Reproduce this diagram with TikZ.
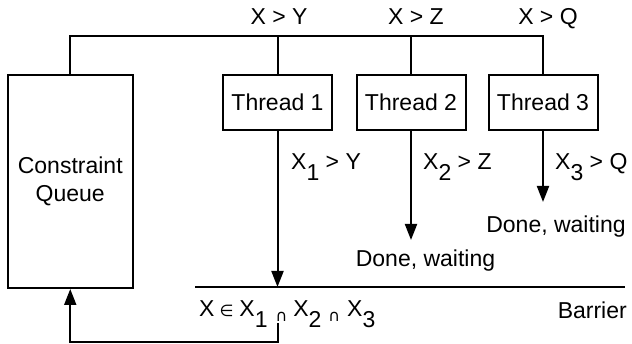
\documentclass[tikz,border=0pt]{standalone}
\usepackage{fontspec}
\setmainfont{Liberation Sans}
\newfontfamily\symf{DejaVu Sans}
\usetikzlibrary{arrows.meta}
\newcommand{\sbx}[1]{\raisebox{-11pt}{#1}}
\newcommand{\smsym}[1]{{\symf\fontsize{16}{16}\selectfont #1}}
\begin{document}
\begin{tikzpicture}[x=1pt,y=-1pt,
  every node/.style={font=\fontsize{23}{28}\selectfont, inner sep=0pt},
  box/.style={draw, line width=2pt, minimum width=109pt, minimum height=55pt},
  qbox/.style={draw, line width=2pt, minimum width=125.5pt, minimum height=213pt, align=center},
  wire/.style={line width=2pt},
  arr/.style={line width=2pt, -{Triangle[length=16pt,width=12pt]}},
  lbl/.style={anchor=base},
  lblw/.style={anchor=base west}]
\useasboundingbox (0,0) rectangle (632,344);

% boxes
\node[qbox] (cq) at (70.25,181.5) {Constraint\\Queue};
\node[box] (t1) at (277.5,102.5) {Thread 1};
\node[box] (t2) at (411,102.5) {Thread 2};
\node[box] (t3) at (543,102.5) {Thread 3};

% top labels
\node[lbl] (l1) at (279,25) {X > Y};
\node[lbl] (l2) at (416,25) {X > Z};
\node[lbl] (l3) at (548,25) {X > Q};

% bus
\coordinate (busL) at (70.25,36);
\coordinate (busR) at (543,36);
\draw[wire] (cq.north) -- (busL) -- (busR) -- (t3.north);
\draw[wire] (t1.north |- busL) -- (t1.north);
\draw[wire] (t2.north |- busL) -- (t2.north);

% barrier
\coordinate (barL) at (195,287);
\coordinate (barR) at (625,287);
\draw[wire] (barL) -- (barR);

% arrows from threads
\coordinate (e2) at (411,240);
\coordinate (e3) at (543,202);
\draw[arr] (t1.south) -- (t1.south |- barL);
\draw[arr] (t2.south) -- (e2);
\draw[arr] (t3.south) -- (e3);

% arrow labels
\node[lblw] (a1) at (291,170) {X\sbx{1} > Y};
\node[lblw] (a2) at (423,170) {X\sbx{2} > Z};
\node[lblw] (a3) at (555,170) {X\sbx{3} > Q};

\node[lbl] (w2) at (425.5,267) {Done, waiting};
\node[lbl] (w3) at (556,233) {Done, waiting};

% formula and barrier label
\node[lblw] (f) at (199,317) {X\hspace{5pt}\smsym{∈}\hspace{6pt}X\sbx{1}\hspace{8pt}\raisebox{-5pt}{\smsym{∩}}\hspace{6pt}X\sbx{2}\hspace{7pt}\raisebox{-5pt}{\smsym{∩}}\hspace{7pt}X\sbx{3}};
\node[anchor=base east] (bar) at (627,319) {Barrier};

% feedback
\coordinate (fb) at (277.5,323);
\coordinate (fbend) at (70.25,342);
\draw[arr] (fb) |- (fbend) -- (cq.south);
\end{tikzpicture}
\end{document}
